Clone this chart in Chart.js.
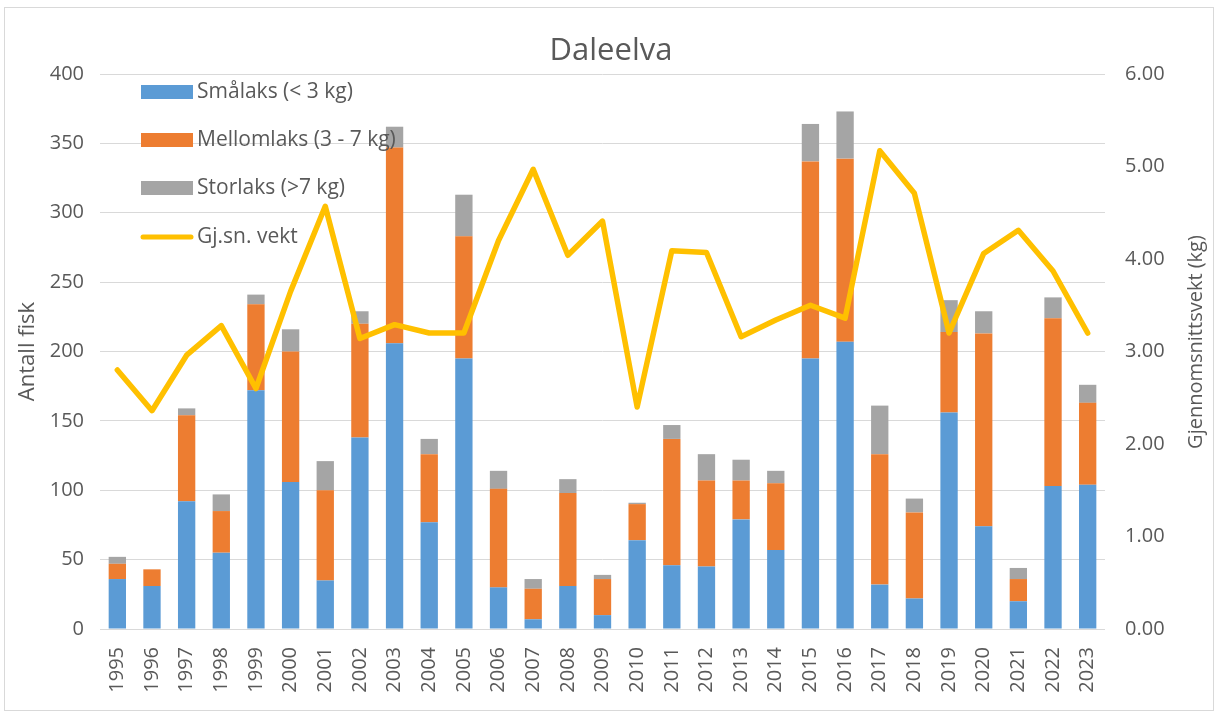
<!DOCTYPE html>
<html>
<head>
<meta charset="utf-8">
<script src="https://cdn.jsdelivr.net/npm/chart.js@4/dist/chart.umd.min.js"></script>
<style>
  body { margin: 0; background: #fff; }
  #wrap { position: relative; width: 1217px; height: 715px; }
  #frame { position: absolute; left: 4px; top: 7px; width: 1208px; height: 702px; border: 1px solid #D9D9D9; pointer-events: none; }
</style>
</head>
<body>
<div id="wrap">
  <canvas id="myChart" width="1217" height="715"></canvas>
  <div id="frame"></div>
</div>
<script>
// data
const years = ['1995','1996','1997','1998','1999','2000','2001','2002','2003','2004',
  '2005','2006','2007','2008','2009','2010','2011','2012','2013','2014',
  '2015','2016','2017','2018','2019','2020','2021','2022','2023'];
const smalaks = [36,31,92,55,172,106,35,138,206,77,195,30,7,31,10,64,46,45,79,57,195,207,32,22,156,74,20,103,104];
const mellomlaks = [11,12,62,30,62,94,65,82,141,49,88,71,22,67,26,26,91,62,28,48,142,132,94,62,58,139,16,121,59];
const storlaks = [5,0,5,12,7,16,21,9,15,11,30,13,7,10,3,1,10,19,15,9,27,34,35,10,23,16,8,15,13];
const snittvekt = [2.80,2.36,2.96,3.28,2.60,3.65,4.57,3.14,3.29,3.20,3.20,4.20,4.97,4.04,4.41,2.40,4.09,4.07,3.16,3.34,3.50,3.36,5.17,4.71,3.20,4.06,4.31,3.87,3.20];

const textColor = '#595959';
const fontFamily = "'Open Sans', sans-serif";

// title, right axis title and the in-plot legend
const extras = {
  id: 'extras',
  afterDraw(chart) {
    const ctx = chart.ctx;
    ctx.save();
    ctx.fillStyle = textColor;
    ctx.textBaseline = 'middle';

    ctx.font = '31px ' + fontFamily;
    ctx.textAlign = 'center';
    ctx.fillText('Daleelva', 611, 51);

    ctx.font = '20px ' + fontFamily;
    ctx.save();
    ctx.translate(1196, 342);
    ctx.rotate(-Math.PI / 2);
    ctx.fillText('Gjennomsnittsvekt (kg)', 0, 0);
    ctx.restore();

    ctx.textAlign = 'left';
    ctx.font = '21px ' + fontFamily;
    const rows = [92, 140, 188, 237];
    chart.data.datasets.forEach((ds, i) => {
      const y = rows[i];
      if (ds.type === 'line') {
        ctx.strokeStyle = ds.borderColor;
        ctx.lineWidth = 5;
        ctx.lineCap = 'round';
        ctx.beginPath();
        ctx.moveTo(143, y);
        ctx.lineTo(191, y);
        ctx.stroke();
      } else {
        ctx.fillStyle = ds.backgroundColor;
        ctx.fillRect(141, y - 7, 52, 14);
      }
      ctx.fillStyle = textColor;
      ctx.fillText(ds.label, 197, y);
    });
    ctx.restore();
  }
};

new Chart(document.getElementById('myChart'), {
  data: {
    labels: years,
    datasets: [
      { type: 'bar', label: 'Smålaks (< 3 kg)', data: smalaks, backgroundColor: '#5B9BD5', yAxisID: 'y', order: 2 },
      { type: 'bar', label: 'Mellomlaks (3 - 7 kg)', data: mellomlaks, backgroundColor: '#ED7D31', yAxisID: 'y', order: 2 },
      { type: 'bar', label: 'Storlaks (>7 kg)', data: storlaks, backgroundColor: '#A5A5A5', yAxisID: 'y', order: 2 },
      { type: 'line', label: 'Gj.sn. vekt', data: snittvekt, borderColor: '#FFC000', borderWidth: 5.5,
        pointRadius: 0, tension: 0, borderJoinStyle: 'round', borderCapStyle: 'round', yAxisID: 'y1', order: 1 }
    ]
  },
  options: {
    responsive: false,
    animation: false,
    layout: { padding: { top: 74, left: 0, right: 0, bottom: 0 } },
    datasets: { bar: { categoryPercentage: 1, barPercentage: 0.5 } },
    plugins: {
      legend: { display: false },
      title: { display: false },
      tooltip: { enabled: false }
    },
    scales: {
      x: {
        stacked: true,
        grid: { display: false },
        border: { display: false },
        ticks: { color: textColor, font: { family: fontFamily, size: 20 }, minRotation: 90, maxRotation: 90, padding: 10, autoSkip: false },
        afterFit: (s) => { s.height = 86; }
      },
      y: {
        stacked: true,
        min: 0, max: 400,
        grid: { color: '#D9D9D9', drawTicks: false },
        border: { display: false },
        ticks: { stepSize: 50, color: textColor, font: { family: fontFamily, size: 20 }, padding: 16 },
        title: { display: true, text: 'Antall fisk', color: textColor, font: { family: fontFamily, size: 22 }, padding: { top: 15, bottom: 0 } },
        afterFit: (s) => { s.width = 100; }
      },
      y1: {
        position: 'right',
        min: 0, max: 6,
        grid: { display: false, drawTicks: false },
        border: { display: false },
        ticks: { stepSize: 1, color: textColor, font: { family: fontFamily, size: 20 }, padding: 20,
          callback: (v) => Number(v).toFixed(2) },
        afterFit: (s) => { s.width = 112; }
      }
    }
  },
  plugins: [extras]
});
</script>
</body>
</html>
